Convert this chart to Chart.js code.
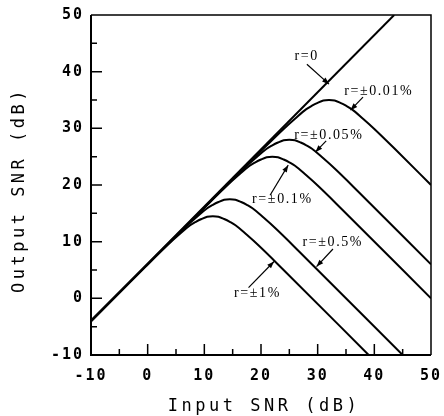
<!DOCTYPE html>
<html><head><meta charset="utf-8">
<script src="https://cdn.jsdelivr.net/npm/chart.js@4.4.1/dist/chart.umd.min.js"></script>
<style>html,body{margin:0;padding:0;background:#fff;}#wrap{width:444px;height:416px;}</style>
</head><body><div id="wrap"><canvas id="c" width="444" height="416"></canvas></div>
<script>
// ---- data ----
const xTicks = [-10, 0, 10, 20, 30, 40, 50];
const yTicks = [-10, 0, 10, 20, 30, 40, 50];
const xTitle = 'Input SNR (dB)';
const yTitle = 'Output SNR (dB)';
const seriesLabels = ['r=0', 'r=±0.01%', 'r=±0.05%', 'r=±0.1%', 'r=±0.5%', 'r=±1%'];

const x_r0 = [-10, 43.5];
const y_r0 = [-4, 50];

const x_r001 = [-10, 20, 24, 26, 28, 29, 30, 31, 32, 33, 34, 35, 36, 38, 40, 44, 50];
const y_r001 = [-4, 26.0, 29.9, 31.7, 33.4, 34.0, 34.5, 34.9, 35.0, 34.9, 34.5, 34.0, 33.4, 31.7, 29.9, 26.0, 20];

const x_r005 = [-10, 13, 17, 19, 21, 22, 23, 24, 25, 26, 27, 28, 29, 31, 33, 37, 50];
const y_r005 = [-4, 19.0, 22.9, 24.7, 26.4, 27.0, 27.5, 27.9, 28.0, 27.9, 27.5, 27.0, 26.4, 24.7, 22.9, 19.0, 6];

const x_r01 = [-10, 10, 14, 16, 18, 19, 20, 21, 22, 23, 24, 25, 26, 28, 30, 34, 50];
const y_r01 = [-4, 16.0, 19.9, 21.7, 23.4, 24.0, 24.5, 24.9, 25.0, 24.9, 24.5, 24.0, 23.4, 21.7, 19.9, 16.0, 0];

const x_r05 = [-10, 2.5, 6.5, 8.5, 10.5, 11.5, 12.5, 13.5, 14.5, 15.5, 16.5, 17.5, 18.5, 20.5, 22.5, 26.5, 45];
const y_r05 = [-4, 8.5, 12.4, 14.2, 15.9, 16.5, 17.0, 17.4, 17.5, 17.4, 17.0, 16.5, 15.9, 14.2, 12.4, 8.5, -10];

const x_r1 = [-10, -0.5, 3.5, 5.5, 7.5, 8.5, 9.5, 10.5, 11.5, 12.5, 13.5, 14.5, 15.5, 17.5, 19.5, 23.5, 39];
const y_r1 = [-4, 5.5, 9.4, 11.2, 12.9, 13.5, 14.0, 14.4, 14.5, 14.4, 14.0, 13.5, 12.9, 11.2, 9.4, 5.5, -10];

// label positions (text centre) and arrow (from -> to), data coordinates
const labelPos = [
  {t: [27.9, 42.7], a: [28.1, 41.3, 32.0, 37.8]},
  {t: [40.6, 36.5], a: [38.0, 35.5, 35.8, 33.2]},
  {t: [31.8, 28.8], a: [31.5, 27.8, 29.6, 25.8]},
  {t: [23.6, 17.4], a: [21.6, 18.2, 24.8, 23.5]},
  {t: [32.5, 9.8],  a: [32.7, 8.7, 29.8, 5.6]},
  {t: [19.2, 0.9],  a: [17.8, 1.9, 22.3, 6.5]}
];

const pairs = [[x_r0, y_r0], [x_r001, y_r001], [x_r005, y_r005], [x_r01, y_r01], [x_r05, y_r05], [x_r1, y_r1]];
const datasets = pairs.map((p, i) => ({
  label: seriesLabels[i],
  data: p[0].map((x, j) => ({x: x, y: p[1][j]})),
  borderColor: '#000',
  borderWidth: 2,
  pointRadius: 0,
  fill: false,
  cubicInterpolationMode: i === 0 ? 'default' : 'monotone',
  tension: 0
}));

const MONO = '"DejaVu Sans Mono", monospace';

const deco = {
  id: 'deco',
  beforeDraw(chart) {
    chart.ctx.letterSpacing = '2px';
  },
  beforeDatasetsDraw(chart) {
    const ctx = chart.ctx;
    ctx.letterSpacing = '0px';
    const a = chart.chartArea;
    const xs = chart.scales.x, ys = chart.scales.y;
    ctx.save();
    ctx.strokeStyle = '#000';
    ctx.lineWidth = 2;
    ctx.beginPath();
    ctx.moveTo(a.left, a.top); ctx.lineTo(a.left, a.bottom); ctx.lineTo(a.right, a.bottom);
    ctx.stroke();
    ctx.lineWidth = 1.5;
    ctx.beginPath();
    ctx.moveTo(a.left, a.top); ctx.lineTo(a.right, a.top); ctx.lineTo(a.right, a.bottom);
    ctx.stroke();
    ctx.lineWidth = 1.5;
    ctx.beginPath();
    for (let v = -5; v < 50; v += 5) {
      const len = (v % 10 === 0) ? 11 : 6;
      const px = xs.getPixelForValue(v);
      ctx.moveTo(px, a.bottom); ctx.lineTo(px, a.bottom - len);
      const py = ys.getPixelForValue(v);
      ctx.moveTo(a.left, py); ctx.lineTo(a.left + len, py);
    }
    ctx.stroke();
    ctx.restore();
  },
  afterDatasetsDraw(chart) {
    const ctx = chart.ctx;
    const xs = chart.scales.x, ys = chart.scales.y;
    ctx.save();
    ctx.fillStyle = '#000';
    ctx.strokeStyle = '#000';
    ctx.font = '14px "Liberation Serif", serif';
    ctx.letterSpacing = '1.6px';
    ctx.textAlign = 'center';
    ctx.textBaseline = 'middle';
    labelPos.forEach((lp, i) => {
      ctx.fillText(seriesLabels[i], xs.getPixelForValue(lp.t[0]) + 1, ys.getPixelForValue(lp.t[1]));
      const x1 = xs.getPixelForValue(lp.a[0]), y1 = ys.getPixelForValue(lp.a[1]);
      const x2 = xs.getPixelForValue(lp.a[2]), y2 = ys.getPixelForValue(lp.a[3]);
      ctx.lineWidth = 1.2;
      ctx.beginPath(); ctx.moveTo(x1, y1); ctx.lineTo(x2, y2); ctx.stroke();
      const ang = Math.atan2(y2 - y1, x2 - x1);
      const L = 7, W = 2.6;
      ctx.beginPath();
      ctx.moveTo(x2, y2);
      ctx.lineTo(x2 - L * Math.cos(ang) + W * Math.sin(ang), y2 - L * Math.sin(ang) - W * Math.cos(ang));
      ctx.lineTo(x2 - L * Math.cos(ang) - W * Math.sin(ang), y2 - L * Math.sin(ang) + W * Math.cos(ang));
      ctx.closePath();
      ctx.fill();
    });
    ctx.font = '17px ' + MONO;
    ctx.letterSpacing = '3.5px';
    ctx.fillText(xTitle, 264, 407);
    ctx.translate(20, 190);
    ctx.rotate(-Math.PI / 2);
    ctx.fillText(yTitle, 0, 0);
    ctx.restore();
  }
};

new Chart(document.getElementById('c'), {
  type: 'line',
  data: {datasets: datasets},
  options: {
    responsive: false,
    animation: false,
    events: [],
    layout: {padding: {top: 15, right: 13, left: 0, bottom: 0}},
    plugins: {legend: {display: false}, tooltip: {enabled: false}},
    scales: {
      x: {
        type: 'linear', min: -10, max: 50,
        afterBuildTicks: s => { s.ticks = xTicks.map(v => ({value: v})); },
        ticks: {font: {family: MONO, size: 15, weight: 'bold'}, color: '#000', padding: 12, maxRotation: 0, autoSkip: false},
        grid: {display: false, drawTicks: false},
        border: {display: false},
        afterFit: s => { s.height = 61; s.paddingLeft = 0; s.paddingRight = 0; }
      },
      y: {
        type: 'linear', min: -10, max: 50,
        afterBuildTicks: s => { s.ticks = yTicks.map(v => ({value: v})); },
        ticks: {font: {family: MONO, size: 15, weight: 'bold'}, color: '#000', padding: 7, autoSkip: false},
        grid: {display: false, drawTicks: false},
        border: {display: false},
        afterFit: s => { s.width = 91; s.paddingTop = 0; s.paddingBottom = 0; }
      }
    }
  },
  plugins: [deco]
});
</script></body></html>
